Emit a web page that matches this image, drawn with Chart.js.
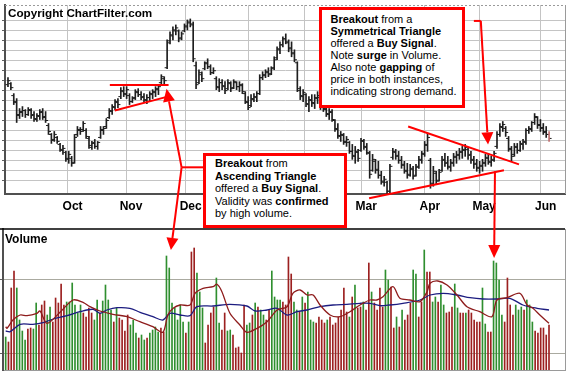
<!DOCTYPE html>
<html>
<head>
<meta charset="utf-8">
<script src="https://cdn.jsdelivr.net/npm/chart.js"></script>
<style>
  body { margin: 0; background: #fff; overflow: hidden; }
  #wrap { position: relative; width: 570px; height: 373px; }
  #wrap canvas { position: absolute; left: 0; top: 0; }
  .note {
    position: absolute; box-sizing: border-box; background: #fff;
    border: 3px solid #ff0000; color: #000; white-space: nowrap;
    font: 11px "Liberation Sans", Arial, sans-serif;
  }
  #note1 { left: 319px; top: 7px; width: 146px; height: 101px; padding: 2.5px 0 0 8.5px; line-height: 12px; }
  #note2 { left: 203px; top: 153px; width: 144px; height: 75px; padding: 1px 0 0 9px; line-height: 12.5px; }
  .lbl { position: absolute; font-weight: bold; color: #000; font-family: "Liberation Sans", Arial, sans-serif; white-space: nowrap; }
  #copy { left: 8px; top: 6px; font-size: 11.7px; line-height: 13px; }
  #volLbl { left: 5px; top: 232px; font-size: 12px; line-height: 14px; }
</style>
</head>
<body>
<div id="wrap">
  <canvas id="priceChart" width="570" height="373"></canvas>
  <canvas id="volumeChart" width="570" height="373"></canvas>
  <div class="lbl" id="copy">Copyright ChartFilter.com</div>
  <div class="lbl" id="volLbl">Volume</div>
  <div class="note" id="note1"><b>Breakout</b> from a<br><b>Symmetrical Triangle</b><br>offered a <b>Buy Signal</b>.<br>Note <b>surge</b> in Volume.<br>Also note <b>gapping</b> of<br>price in both instances,<br>indicating strong demand.</div>
  <div class="note" id="note2"><b>Breakout</b> from<br><b>Ascending Triangle</b><br>offered a <b>Buy Signal</b>.<br>Validity was <b>confirmed</b><br>by high volume.</div>
</div>
<script>
// daily price bars, one entry per trading day
const priceHigh = [
  30.3,29.8,28.7,28.2,27.2,27.4,27.1,27.3,27.2,26.9,
  26.7,27.1,27.2,26.9,25.7,24.7,24.9,24.4,23.7,23.5,
  22.9,22.9,22.4,24.6,25.4,25.3,25.9,25.2,24.4,23.9,
  24.1,23.9,25.4,25.4,26.2,27.2,27.6,28.1,28.2,29.3,
  29.4,29.4,28.7,28.4,29.1,29.2,28.9,28.7,28.6,28.9,
  29.1,29.4,29.6,30.6,30.4,34.1,34.9,35.4,35.6,35.1,
  34.9,35.7,36.1,36.2,35.9,31.9,31.1,30.9,31.9,32.2,
  31.6,31.3,30.4,30.2,30.1,29.9,30.1,29.9,30.1,29.9,
  29.9,29.7,28.9,28.4,28.6,28.7,28.9,30.6,30.9,31.1,
  31.3,31.4,32.4,33.4,33.9,34.4,34.7,34.1,33.9,33.1,
  31.9,29.4,29.1,28.7,28.4,28.6,28.6,28.9,28.4,28.1,
  27.4,27.2,27.1,26.1,25.7,24.9,24.7,24.4,23.9,23.6,
  23.4,23.1,24.2,24.1,23.7,22.9,22.6,22.1,21.9,20.9,
  20.4,19.9,21.6,23.2,23.1,22.9,22.4,21.9,21.7,21.6,
  21.4,21.6,22.4,22.9,23.9,24.7,22.2,21.4,20.9,21.1,
  22.4,22.7,22.4,22.1,22.7,22.9,23.2,23.4,23.6,23.2,
  22.9,22.4,22.1,21.9,22.1,22.6,22.7,22.4,22.9,24.9,
  25.7,25.9,25.4,24.4,23.4,23.7,23.7,23.9,24.1,25.2,
  25.4,25.9,26.7,26.4,26.1,25.7,25.4,24.9
];
const priceLow = [
  29.4,29.1,27.6,25.8,26.2,26.4,26.3,26.5,26.2,25.9,
  25.9,26.1,26.1,25.8,24.6,23.7,23.9,23.7,22.9,22.6,
  21.9,21.7,21.4,21.7,24.4,24.6,24.9,24.2,23.2,23.1,
  23.2,23.1,24.2,24.6,25.2,26.2,26.6,27.1,27.3,28.2,
  28.4,28.2,27.6,27.8,28.1,28.4,28.1,27.9,27.7,27.9,
  28.2,28.4,28.6,29.6,29.7,31.2,33.7,34.1,34.6,33.9,
  34.1,34.9,35.1,35.4,31.9,29.2,29.7,29.9,31.1,31.2,
  30.6,30.7,29.1,28.9,29.1,28.7,29.1,28.9,29.2,29.1,
  28.9,28.7,27.7,27.1,27.4,27.9,27.9,28.6,30.1,30.3,
  30.4,30.6,31.1,32.1,32.7,33.4,33.7,32.9,32.4,31.9,
  28.9,28.1,27.9,27.4,26.9,27.4,27.2,27.7,27.1,26.9,
  26.4,26.1,25.9,24.9,24.2,23.9,23.6,23.4,22.7,22.1,
  21.7,21.9,22.9,23.1,22.6,20.2,20.9,20.7,20.2,19.6,
  19.4,18.6,18.7,22.1,22.1,21.7,21.2,20.7,20.2,20.4,
  20.1,20.4,21.2,21.7,22.4,22.9,19.2,19.4,19.6,19.9,
  20.9,21.4,21.1,20.9,21.4,21.7,22.1,22.2,22.4,22.1,
  21.7,21.2,20.9,20.7,20.9,21.4,21.6,21.4,21.9,23.2,
  24.4,24.9,24.4,22.9,21.9,22.4,22.7,22.9,23.1,23.6,
  24.7,24.9,25.6,25.2,24.9,24.6,24.3,23.9
];
const priceOpen = [
  29.6,29.7,28.5,27.8,26.5,26.8,27.0,26.6,27.0,26.6,
  26.1,26.4,26.9,26.4,25.5,24.6,24.1,24.3,23.6,23.0,
  22.8,22.1,22.2,21.8,24.6,25.0,25.1,25.0,24.2,23.3,
  23.8,23.4,24.3,25.0,25.4,26.3,26.9,27.3,27.8,28.4,
  28.9,28.6,28.5,27.9,28.3,28.8,28.6,28.4,28.0,28.3,
  28.6,28.8,29.1,29.8,30.2,31.3,34.0,34.5,35.0,35.0,
  34.3,35.0,35.4,35.8,35.6,31.5,29.8,30.6,31.2,31.7,
  31.4,30.8,30.2,29.3,29.8,29.4,29.2,29.7,29.3,29.8,
  29.4,29.5,28.7,27.8,27.5,28.1,28.3,28.7,30.3,30.5,
  30.8,30.7,31.3,32.3,33.1,33.6,34.2,33.8,33.3,32.7,
  31.8,29.0,28.4,28.6,27.6,28.0,27.7,28.2,28.3,27.4,
  27.1,26.6,26.8,26.0,25.1,24.4,24.5,23.8,23.8,22.9,
  22.4,22.8,23.0,23.9,23.3,22.7,21.0,21.9,21.1,20.5,
  19.8,19.8,18.9,22.3,22.8,22.5,22.0,21.6,20.9,20.5,
  21.1,20.5,21.4,22.0,22.6,23.5,22.0,19.7,20.7,20.0,
  21.0,22.1,21.8,21.3,21.7,22.3,22.5,22.8,23.0,23.1,
  22.6,22.0,21.7,21.2,21.4,21.7,22.2,21.8,22.0,23.4,
  24.6,25.3,25.2,24.2,23.1,22.6,23.3,23.0,23.6,23.8,
  25.0,25.1,25.8,26.3,25.6,25.3,24.9,24.6
];
const priceClose = [
  30.0,29.3,27.9,26.6,26.9,27.0,26.6,27.1,26.5,26.2,
  26.5,26.8,26.3,26.0,24.9,24.0,24.6,23.9,23.1,23.2,
  22.2,22.6,21.7,24.3,25.1,24.9,25.7,24.4,23.5,23.7,
  23.4,23.8,25.1,25.2,26.0,27.0,27.4,27.9,27.6,29.0,
  28.7,29.1,27.9,28.2,28.9,28.6,28.3,28.1,28.3,28.7,
  28.9,29.2,29.4,30.4,30.0,33.8,34.6,35.1,35.3,34.2,
  34.7,35.5,35.9,35.7,32.2,29.6,30.8,30.2,31.8,31.4,
  30.8,31.0,29.4,29.8,29.5,29.0,29.8,29.2,29.9,29.4,
  29.6,28.9,27.9,27.3,28.2,28.4,28.7,30.3,30.6,30.9,
  30.6,31.2,32.1,33.2,33.6,34.2,33.9,33.2,32.8,32.1,
  29.2,28.5,28.8,27.7,28.1,27.8,28.3,28.5,27.5,27.2,
  26.7,26.9,26.1,25.2,24.5,24.6,23.9,24.1,22.9,22.5,
  22.9,22.2,24.0,23.4,22.8,20.6,22.1,21.0,20.5,19.9,
  20.1,18.9,21.4,22.9,22.4,22.0,21.5,21.0,20.6,21.2,
  20.4,21.3,22.1,22.7,23.6,24.3,19.6,20.9,19.9,20.8,
  22.0,21.7,21.4,21.8,22.4,22.6,22.9,23.1,23.3,22.5,
  22.1,21.6,21.3,21.5,21.8,22.3,21.9,22.1,22.7,24.6,
  25.4,25.6,24.8,23.2,22.4,23.4,23.0,23.7,23.9,25.0,
  25.2,25.8,26.4,25.5,25.2,24.8,24.6,24.2
];
const monthDays = [20.6, 40.8, 61.4, 83.1, 102.4, 122.1, 144.1, 162.8, 184.1];
const monthLabels = ['Oct', 'Nov', 'Dec', 'Jan', 'Feb', 'Mar', 'Apr', 'May', 'Jun'];
const priceGrid = [20, 21, 22, 23, 24, 25, 26, 27, 28, 29, 30, 31, 32, 33, 34, 35, 36];

// volume (thousands), G = up day, R = down day
const volume = [
  330,280,820,990,820,500,390,300,410,420,
  410,670,450,650,690,550,630,480,720,670,
  860,650,680,680,870,650,570,650,570,530,
  620,570,500,700,570,690,850,700,600,480,
  620,520,500,390,550,450,500,370,320,350,
  300,320,370,400,430,380,420,380,1140,1020,
  670,620,500,650,480,370,480,1180,1220,970,
  780,620,270,450,570,630,920,470,400,570,
  390,400,350,220,230,170,650,450,470,550,
  670,630,600,550,500,600,990,730,700,700,
  680,650,1130,960,680,600,580,730,670,780,
  500,480,470,530,500,470,500,530,450,470,
  530,600,820,580,530,730,850,620,630,680,
  600,1070,780,670,600,820,630,1000,900,830,
  420,530,430,600,500,550,670,1000,960,530,
  680,1200,980,980,680,730,680,850,650,570,
  580,630,860,620,570,570,570,600,570,500,
  480,480,820,460,380,380,1090,1070,900,550,
  480,920,650,550,650,600,630,600,700,650,
  480,390,370,420,420,350,450
];
const volumeDir = (
  "GRRRGGGGRR" + "GGRRRGGRRR" + "RRGGGGGGRR" + "RRGGRGGGGR" + "GRRRRGGGRG" +
  "GRGGGGRRGG" + "GGGGGRGRRG" + "GGRRRRGGRR" + "GGRRRRRGGR" + "GRGGRRGGGG" +
  "RRRRGGRGRG" + "GGRRRRGRRR" + "RRRRGRGRRG" + "RRGRRRRGGR" + "RGRGRRRGGR" +
  "RGRRGGRGGR" + "RRGGRRGRRR" + "RRGGRRGGGG" + "RRRRGGGRGG" + "GRRRRRR"
).split('');
const volGrid = [170, 910];

// volume averages (day on the volume axis, value)
const avgLongDay = [0,1.6,5.2,9.8,13.5,17.1,22.1,26.8,31.5,34,36.5,40.2,44.8,48.5,53.1,56.7,59.3,62.9,66.5,69,
  74.8,80.9,87,90,94.3,97.9,101.5,105.1,108.7,113.4,118.1,123.1,127.8,131.4,135,138.6,143.3,149.5,153.1,157.8,
  162.8,167.5,172.2,177.2,181.9,186.6,191.7,196];
const avgLongVal = [390,383,457,457,473,510,543,583,607,567,600,623,617,577,533,500,567,550,543,633,
  640,657,640,590,600,617,550,583,600,633,650,657,667,667,643,650,667,700,750,767,
  750,723,710,710,717,650,617,600];
const avgShortDay = [0,0.5,2.6,5.2,7.7,11.3,12.4,14.9,19.6,24.3,27.9,30.4,34,38.7,43.8,48.4,53.1,56.7,58.5,60.4,
  62.9,66.5,68.3,71.2,74.8,76.2,78,80.9,84.5,87,90.7,94.3,97.9,101.5,103.6,106.2,108.7,110.9,113.4,117,
  120.6,124.2,127.8,131.4,133.9,136.1,139.7,142.2,145.8,149.5,152,153.1,155.9,159.2,162.8,166.4,171,175.4,177.2,180.9,
  185.5,188.1,190.2,192.7,196];
const avgShortVal = [433,417,500,550,543,567,590,467,577,700,677,633,590,557,533,483,433,377,550,617,
  650,650,767,817,833,857,783,567,450,377,417,483,600,633,767,800,750,750,650,550,
  533,583,650,700,700,733,833,717,700,683,783,867,890,850,750,633,583,533,700,723,
  767,650,617,550,467];

// annotation lines (price day, price)
const ascTop = [[35.2, 29.57], [55.5, 29.57]];
const ascBase = [[36.9, 27.0], [55.2, 28.4]];
const symTop = [[138.3, 25.4], [176.6, 21.6]];
const symBase = [[124.8, 18.2], [171.4, 21.0]];

Chart.defaults.font.family = '"Liberation Sans", Arial, sans-serif';
Chart.defaults.animation = false;

const priceFrame = {
  id: 'priceFrame',
  beforeDatasetsDraw(chart) {
    const { ctx, chartArea: a } = chart;
    ctx.save();
    ctx.strokeStyle = '#9a9a9a';
    ctx.lineWidth = 1;
    ctx.setLineDash([2, 2]);
    ctx.beginPath(); ctx.moveTo(a.left, a.top + 0.5); ctx.lineTo(a.right, a.top + 0.5); ctx.stroke();
    ctx.setLineDash([]);
    ctx.beginPath(); ctx.moveTo(a.right + 0.5, a.top); ctx.lineTo(a.right + 0.5, a.bottom); ctx.stroke();
    ctx.restore();
  }
};

const priceChart = new Chart(document.getElementById('priceChart'), {
  type: 'bar',
  data: {
    datasets: [
      {
        data: priceHigh.map((h, i) => ({ x: i, y: [priceLow[i], h] })),
        backgroundColor: (c) => c.dataIndex === priceHigh.length - 1 ? '#c07070' : '#1e1e1e',
        barThickness: 1
      },
      {
        type: 'line', showLine: false,
        data: priceOpen.map((o, i) => ({ x: i - 0.45, y: o })),
        pointStyle: 'line', pointRadius: 1.2, pointBorderWidth: 1, pointBorderColor: '#1e1e1e'
      },
      {
        type: 'line', showLine: false,
        data: priceClose.map((c, i) => ({ x: i + 0.45, y: c })),
        pointStyle: 'line', pointRadius: 1.2, pointBorderWidth: 1, pointBorderColor: '#1e1e1e'
      }
    ]
  },
  options: {
    responsive: false,
    devicePixelRatio: 1,
    layout: { padding: { left: 3, right: 5, top: 3, bottom: 159 } },
    plugins: { legend: { display: false }, tooltip: { enabled: false } },
    scales: {
      x: {
        type: 'linear', min: -1.03, max: 192.5, offset: false,
        afterBuildTicks: (s) => { s.ticks = monthDays.map(v => ({ value: v })); },
        afterFit: (s) => { s.height = 20; },
        grid: { color: '#c4c4c4', drawTicks: false, offset: false },
        border: { color: '#505050', width: 2 },
        ticks: {
          autoSkip: false, maxRotation: 0, padding: 5, labelOffset: 5,
          color: '#000', font: { size: 12, weight: 'bold' },
          callback: (v, i) => monthLabels[i]
        }
      },
      y: {
        min: 18.62, max: 37.6,
        afterBuildTicks: (s) => { s.ticks = priceGrid.map(v => ({ value: v })); },
        afterFit: (s) => { s.width = 0; },
        grid: { color: '#c4c4c4', tickLength: 3, tickColor: '#606060' },
        border: { color: '#505050', width: 2 },
        ticks: { display: false }
      }
    }
  },
  plugins: [priceFrame]
});

function arrowTo(ctx, a, b, len, half) {
  const dx = b[0] - a[0], dy = b[1] - a[1], L = Math.hypot(dx, dy);
  const ux = dx / L, uy = dy / L;
  const bx = b[0] - ux * len, by = b[1] - uy * len;
  ctx.beginPath(); ctx.moveTo(a[0], a[1]); ctx.lineTo(bx, by); ctx.stroke();
  ctx.beginPath();
  ctx.moveTo(b[0], b[1]);
  ctx.lineTo(bx - uy * half, by + ux * half);
  ctx.lineTo(bx + uy * half, by - ux * half);
  ctx.closePath(); ctx.fill();
}

const notes = {
  id: 'notes',
  afterDraw(chart) {
    const ctx = chart.ctx;
    const px = priceChart.scales.x, py = priceChart.scales.y;
    const vx = chart.scales.x, vy = chart.scales.y;
    const P = (d, p) => [px.getPixelForValue(d), py.getPixelForValue(p)];
    const V = (d, v) => [vx.getPixelForValue(d), vy.getPixelForValue(v)];
    const seg = (a, b) => { ctx.beginPath(); ctx.moveTo(a[0], a[1]); ctx.lineTo(b[0], b[1]); ctx.stroke(); };

    ctx.save();
    ctx.strokeStyle = '#ff0000';
    ctx.fillStyle = '#ff0000';
    ctx.lineWidth = 2;
    [ascTop, ascBase, symTop, symBase].forEach(l => seg(P(l[0][0], l[0][1]), P(l[1][0], l[1][1])));

    // ascending triangle callout
    const knee = P(60, 21.3);
    seg(P(67.9, 21.3), knee);
    arrowTo(ctx, knee, P(54.8, 29.2), 13, 6);
    arrowTo(ctx, knee, V(59.6, 1200), 12, 6);

    // symmetrical triangle callout
    const b1 = P(161.0, 36.0), b2 = P(163.4, 36.0);
    seg(b1, b2);
    arrowTo(ctx, b2, P(165.9, 23.6), 12, 6);
    arrowTo(ctx, P(168.3, 20.9), V(176.2, 1120), 13, 6);
    ctx.restore();
  }
};

const volumeFrame = {
  id: 'volumeFrame',
  beforeDatasetsDraw(chart) {
    const { ctx, chartArea: a } = chart;
    ctx.save();
    ctx.strokeStyle = '#9a9a9a';
    ctx.lineWidth = 1;
    ctx.beginPath(); ctx.moveTo(a.right + 0.5, a.top); ctx.lineTo(a.right + 0.5, a.bottom); ctx.stroke();
    ctx.strokeStyle = '#000';
    ctx.lineWidth = 1.5;
    ctx.beginPath(); ctx.moveTo(0, a.top); ctx.lineTo(a.right, a.top); ctx.stroke();
    ctx.restore();
  }
};

new Chart(document.getElementById('volumeChart'), {
  type: 'bar',
  data: {
    datasets: [
      {
        type: 'line',
        data: avgShortDay.map((d, i) => ({ x: d, y: avgShortVal[i] })),
        borderColor: '#8e1c1c', borderWidth: 1.3, pointRadius: 0, tension: 0.3
      },
      {
        type: 'line',
        data: avgLongDay.map((d, i) => ({ x: d, y: avgLongVal[i] })),
        borderColor: '#1c1c80', borderWidth: 1.3, pointRadius: 0, tension: 0.3
      },
      {
        data: volume.map((v, i) => ({ x: i, y: v })),
        backgroundColor: volumeDir.map(c => c === 'G' ? '#2f8f2f' : '#9c2020'),
        barThickness: 1
      }
    ]
  },
  options: {
    responsive: false,
    devicePixelRatio: 1,
    layout: { padding: { left: 3, right: 5, top: 229, bottom: 3 } },
    plugins: { legend: { display: false }, tooltip: { enabled: false } },
    scales: {
      x: {
        type: 'linear', min: -0.97, max: 201.77, offset: false,
        afterFit: (s) => { s.height = 0; },
        grid: { display: false },
        border: { color: '#9a9a9a' },
        ticks: { display: false }
      },
      y: {
        min: 0, max: 1410,
        afterBuildTicks: (s) => { s.ticks = volGrid.map(v => ({ value: v })); },
        afterFit: (s) => { s.width = 0; },
        grid: { color: '#aaaaa0', tickLength: 3, tickColor: '#606060' },
        border: { color: '#505050', width: 2 },
        ticks: { display: false }
      }
    }
  },
  plugins: [volumeFrame, notes]
});
</script>
</body>
</html>
